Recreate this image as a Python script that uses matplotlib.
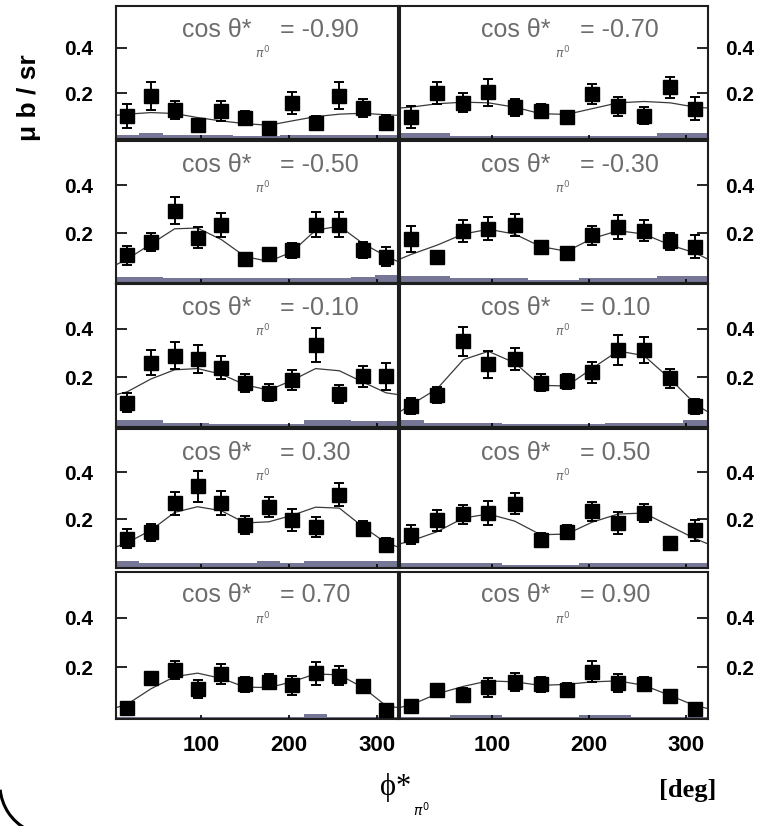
import matplotlib
matplotlib.use('Agg')
import matplotlib.pyplot as plt
from matplotlib.patches import Arc

# ---------------- data ----------------
phi = [16, 43, 70, 96, 123, 150, 177, 203, 230, 257, 284, 310]
fit_phi = [4, 16, 43, 70, 96, 123, 150, 177, 203, 230, 257, 284, 310, 323]
sys_edges = [4, 29.5, 56.5, 83, 109.5, 136.5, 163, 190, 216.5, 243.5, 270, 297, 323]
cos_labels = ['-0.90', '-0.70', '-0.50', '-0.30', '-0.10',
              '0.10', '0.30', '0.50', '0.70', '0.90']
x_ticks = [100, 200, 300]
y_ticks = [0.2, 0.4]

y_m090 = [0.099, 0.188, 0.124, 0.058, 0.121, 0.089, 0.047, 0.156, 0.067, 0.188, 0.136, 0.070]
e_m090 = [0.052, 0.063, 0.040, 0.025, 0.044, 0.030, 0.015, 0.048, 0.030, 0.060, 0.040, 0.035]
f_m090 = [0.102, 0.107, 0.114, 0.110, 0.092, 0.077, 0.065, 0.058, 0.077, 0.096, 0.107, 0.111, 0.104, 0.102]
s_m090 = [0.013, 0.024, 0.013, 0.013, 0.013, 0.011, 0.011, 0.013, 0.013, 0.014, 0.014, 0.014]

y_m070 = [0.094, 0.200, 0.157, 0.204, 0.138, 0.121, 0.094, 0.197, 0.141, 0.101, 0.226, 0.131]
e_m070 = [0.048, 0.050, 0.042, 0.060, 0.038, 0.030, 0.025, 0.044, 0.040, 0.037, 0.046, 0.050]
f_m070 = [0.134, 0.138, 0.153, 0.160, 0.157, 0.138, 0.109, 0.106, 0.131, 0.157, 0.163, 0.157, 0.138, 0.134]
s_m070 = [0.022, 0.022, 0.012, 0.012, 0.012, 0.012, 0.012, 0.012, 0.012, 0.012, 0.022, 0.022]

y_m050 = [0.109, 0.164, 0.295, 0.181, 0.235, 0.092, 0.113, 0.129, 0.235, 0.235, 0.129, 0.103]
e_m050 = [0.039, 0.038, 0.058, 0.044, 0.049, 0.022, 0.026, 0.030, 0.052, 0.052, 0.033, 0.038]
f_m050 = [0.070, 0.092, 0.155, 0.219, 0.222, 0.174, 0.103, 0.083, 0.122, 0.213, 0.230, 0.157, 0.105, 0.083]
s_m050 = [0.020, 0.020, 0.013, 0.013, 0.013, 0.013, 0.013, 0.013, 0.013, 0.013, 0.020, 0.026]

y_m030 = [0.178, 0.103, 0.211, 0.220, 0.233, 0.141, 0.118, 0.191, 0.226, 0.211, 0.167, 0.145]
e_m030 = [0.054, 0.020, 0.046, 0.048, 0.046, 0.026, 0.026, 0.040, 0.050, 0.045, 0.036, 0.047]
f_m030 = [0.092, 0.112, 0.151, 0.197, 0.217, 0.197, 0.145, 0.125, 0.178, 0.211, 0.197, 0.151, 0.118, 0.092]
s_m030 = [0.022, 0.022, 0.015, 0.015, 0.015, 0.007, 0.007, 0.015, 0.015, 0.015, 0.022, 0.022]

y_m010 = [0.096, 0.260, 0.289, 0.276, 0.240, 0.177, 0.137, 0.189, 0.333, 0.133, 0.204, 0.204]
e_m010 = [0.040, 0.051, 0.056, 0.057, 0.047, 0.037, 0.035, 0.040, 0.069, 0.037, 0.044, 0.057]
f_m010 = [0.129, 0.140, 0.193, 0.231, 0.236, 0.213, 0.169, 0.147, 0.187, 0.236, 0.227, 0.180, 0.136, 0.129]
s_m010 = [0.022, 0.022, 0.013, 0.013, 0.006, 0.006, 0.006, 0.006, 0.022, 0.022, 0.018, 0.018]

y_p010 = [0.083, 0.127, 0.349, 0.253, 0.276, 0.177, 0.183, 0.220, 0.313, 0.313, 0.196, 0.080]
e_p010 = [0.033, 0.031, 0.060, 0.057, 0.045, 0.035, 0.031, 0.043, 0.061, 0.052, 0.039, 0.032]
f_p010 = [0.057, 0.087, 0.153, 0.273, 0.307, 0.260, 0.167, 0.164, 0.236, 0.309, 0.289, 0.193, 0.089, 0.057]
s_p010 = [0.022, 0.013, 0.013, 0.013, 0.006, 0.006, 0.006, 0.006, 0.013, 0.013, 0.013, 0.022]

y_p030 = [0.117, 0.144, 0.267, 0.340, 0.269, 0.176, 0.253, 0.197, 0.167, 0.304, 0.160, 0.089]
e_p030 = [0.040, 0.036, 0.050, 0.065, 0.050, 0.037, 0.043, 0.045, 0.043, 0.049, 0.031, 0.030]
f_p030 = [0.083, 0.100, 0.153, 0.229, 0.253, 0.236, 0.184, 0.189, 0.216, 0.251, 0.247, 0.167, 0.100, 0.083]
s_p030 = [0.022, 0.012, 0.012, 0.012, 0.012, 0.012, 0.022, 0.012, 0.022, 0.022, 0.022, 0.022]

y_p050 = [0.134, 0.196, 0.220, 0.226, 0.266, 0.113, 0.147, 0.233, 0.183, 0.226, 0.097, 0.153]
e_p050 = [0.040, 0.045, 0.042, 0.050, 0.046, 0.028, 0.030, 0.042, 0.046, 0.038, 0.020, 0.044]
f_p050 = [0.095, 0.108, 0.147, 0.205, 0.222, 0.192, 0.134, 0.137, 0.187, 0.222, 0.226, 0.170, 0.117, 0.095]
s_p050 = [0.012, 0.012, 0.012, 0.012, 0.006, 0.006, 0.006, 0.012, 0.012, 0.012, 0.012, 0.012]

y_p070 = [0.039, 0.156, 0.190, 0.114, 0.174, 0.132, 0.142, 0.128, 0.177, 0.167, 0.124, 0.028]
e_p070 = [0.020, 0.025, 0.037, 0.035, 0.040, 0.030, 0.030, 0.038, 0.046, 0.039, 0.022, 0.015]
f_p070 = [0.039, 0.052, 0.114, 0.163, 0.177, 0.156, 0.121, 0.119, 0.142, 0.174, 0.170, 0.119, 0.046, 0.039]
s_p070 = [0.0, 0.0, 0.0, 0.0, 0.0, 0.0, 0.0, 0.0, 0.012, 0.0, 0.0, 0.0]

y_p090 = [0.046, 0.108, 0.091, 0.121, 0.142, 0.132, 0.110, 0.183, 0.138, 0.132, 0.087, 0.032]
e_p090 = [0.015, 0.018, 0.028, 0.038, 0.037, 0.030, 0.029, 0.041, 0.036, 0.028, 0.018, 0.017]
f_p090 = [0.039, 0.050, 0.094, 0.124, 0.146, 0.142, 0.128, 0.132, 0.142, 0.146, 0.128, 0.087, 0.046, 0.035]
s_p090 = [0.0, 0.0, 0.010, 0.010, 0.0, 0.0, 0.0, 0.010, 0.010, 0.0, 0.0, 0.0]

panels = [
    (y_m090, e_m090, f_m090, s_m090), (y_m070, e_m070, f_m070, s_m070),
    (y_m050, e_m050, f_m050, s_m050), (y_m030, e_m030, f_m030, s_m030),
    (y_m010, e_m010, f_m010, s_m010), (y_p010, e_p010, f_p010, s_p010),
    (y_p030, e_p030, f_p030, s_p030), (y_p050, e_p050, f_p050, s_p050),
    (y_p070, e_p070, f_p070, s_p070), (y_p090, e_p090, f_p090, s_p090),
]

# ---------------- layout ----------------
W, H = 765, 826
plt.rcParams['font.family'] = ['Liberation Sans', 'DejaVu Sans']
fig = plt.figure(figsize=(W / 100, H / 100), dpi=100)

cols = [(116.5, 397.5), (399.5, 708.0)]
rows = [(6, 139.5), (141, 282.5), (284, 427), (428.5, 567.5), (571.5, 718.5)]
YMIN, YMAX = -0.005, 0.585
title_gray = '#6d6d6d'
band_col = '#767696'

# title x fractions per column: (cos right edge, '=' left edge, pi centre)
title_fr = [(0.482, 0.582, 0.518), (0.491, 0.585, 0.530)]

for i, (yv, ev, fv, sv) in enumerate(panels):
    r, c = divmod(i, 2)
    x0, x1 = cols[c]
    top, bot = rows[r]
    ax = fig.add_axes([x0 / W, 1 - bot / H, (x1 - x0) / W, (bot - top) / H])
    ax.set_xlim(4, 323)
    ax.set_ylim(YMIN, YMAX)
    ax.stairs(sv, sys_edges, baseline=YMIN, fill=True, color=band_col, lw=0, zorder=1)
    ax.plot(fit_phi, fv, color='#3a3a3a', lw=0.9, zorder=2)
    ax.errorbar(phi, yv, yerr=ev, fmt='s', color='black', ms=9.5,
                capsize=3.8, elinewidth=1.4, capthick=1.4, zorder=3)
    for sp in ax.spines.values():
        sp.set_linewidth(1.5)
        sp.set_color('#1e1e1e')

    ax.set_xticks(x_ticks)
    ax.tick_params(axis='x', direction='in', length=3, width=1.2, pad=12,
                   labelsize=16, top=False)
    if r < 4:
        ax.set_xticklabels([])
    else:
        for t in ax.get_xticklabels():
            t.set_fontweight('bold')

    ax.set_yticks(y_ticks)
    ax.set_yticklabels(['0.2', '0.4'])
    if c == 0:
        ax.tick_params(axis='y', direction='in', length=8, width=1.2, pad=17,
                       labelsize=15, left=True, right=False)
    else:
        ax.yaxis.tick_right()
        ax.tick_params(axis='y', direction='in', length=8, width=1.2, pad=12,
                       labelsize=15, left=False, right=True,
                       labelright=True, labelleft=False)
    for t in ax.get_yticklabels():
        t.set_fontweight('bold')

    fa, fb, fp = title_fr[c]
    trans = ax.transAxes
    hpx = bot - top
    ax.text(fa, 1 - 31 / hpx, 'cos θ*', transform=trans, ha='right',
            va='baseline', fontsize=18, color=title_gray)
    ax.text(fb, 1 - 31 / hpx, '= ' + cos_labels[i], transform=trans, ha='left',
            va='baseline', fontsize=18, color=title_gray)
    ax.text(fp, 1 - 47 / hpx, r'$\pi^{0}$', transform=trans, ha='center',
            va='center', fontsize=9, color=title_gray)

# axis labels
fig.text(29 / W, 1 - 98 / H, 'μ b / sr', rotation=90, ha='center', va='center',
         fontsize=19, fontweight='bold')
fig.text(396 / W, 1 - 788 / H, 'ϕ*', ha='center', va='center', fontsize=22,
         family=['Liberation Serif', 'DejaVu Serif'])
fig.text(421 / W, 1 - 810 / H, r'$\pi^{0}$', ha='center', va='center', fontsize=10,
         family=['Liberation Serif', 'DejaVu Serif'])
fig.text(688 / W, 1 - 790 / H, '[deg]', ha='center', va='center', fontsize=19,
         fontweight='bold', family=['Liberation Serif', 'DejaVu Serif'])

# decorative corner arc (bottom-left)
arc = Arc((50 / W, (H - 785) / H), 100 / W, 100 / H, theta1=185, theta2=240,
          transform=fig.transFigure, color='black', lw=2.2)
fig.add_artist(arc)

fig.savefig('out.png', dpi=100)
